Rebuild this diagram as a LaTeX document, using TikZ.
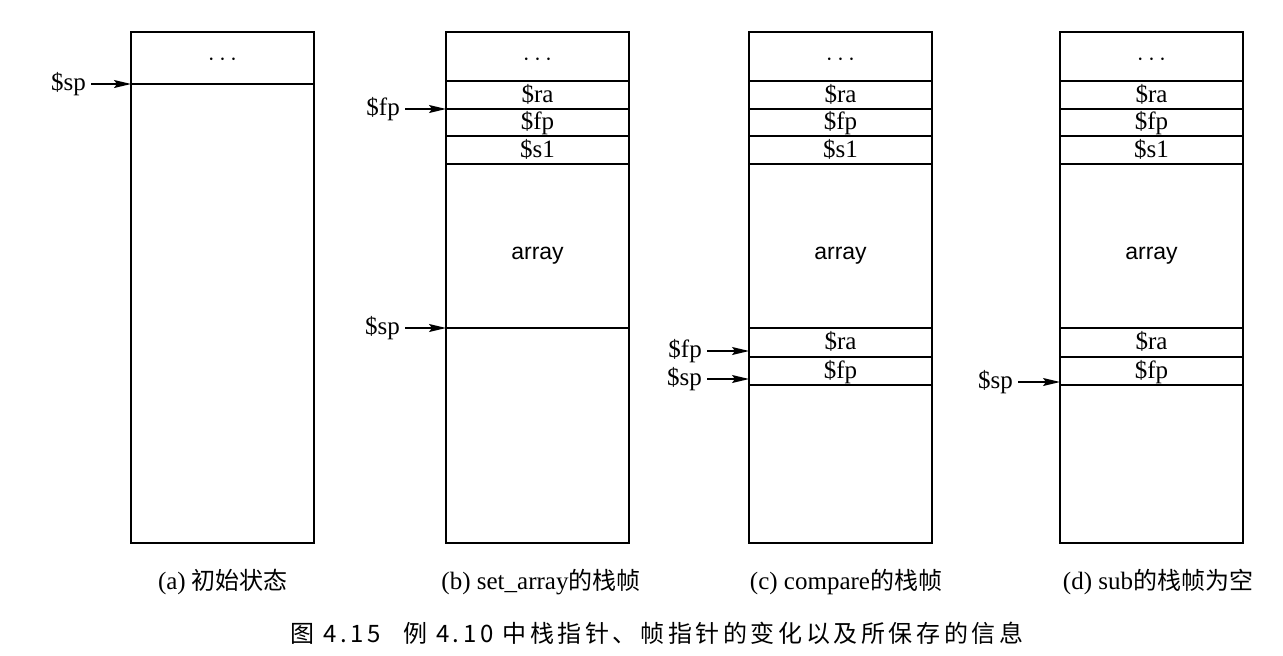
\documentclass[tikz,border=0pt]{standalone}
\usepackage{fontspec}
\setmainfont{Liberation Serif}
\newfontfamily\cjk{Noto Sans CJK SC}
\newfontfamily\cjkcap[LetterSpace=15]{Noto Sans CJK SC}
\newfontfamily\sanf{Liberation Sans}
\usetikzlibrary{arrows.meta}
\begin{document}
\begin{tikzpicture}[x=1pt,y=-1pt,
  box/.style={line width=1.8pt},
  sep/.style={line width=1.7pt},
  cell/.style={font=\fontsize{25}{29}\selectfont, text height=17pt, text depth=5pt, inner sep=0pt},
  lab/.style={font=\fontsize{25}{29}\selectfont, text height=17pt, text depth=5pt, inner sep=0pt, anchor=east},
  ptr/.style={line width=1.4pt, shorten <=5pt, -{Stealth[length=17pt,width=8pt,inset=3pt]}},
  subcap/.style={font=\fontsize{25}{29}\selectfont, inner sep=0pt}]
\useasboundingbox (0,0) rectangle (1283,656);
\fill[white] (0,0) rectangle (1283,656);

% ---------- (a)
\draw[box] (131,32) rectangle (314,543);
\draw[sep] (131,84) -- (314,84);
\node[cell] (a-dots) at (222.5,59) {$\cdots$};
\node[lab] (a-sp) at (86,84) {\$sp};
\coordinate (a-spT) at (131,84);
\draw[ptr] (a-sp.east) -- (a-spT);

% ---------- common upper part of (b), (c), (d)
\foreach \L/\n in {446/b,749/c,1060/d}{
  \draw[box] (\L,32) rectangle (\L+183,543);
  \foreach \yy in {81,109,136,164}{
    \draw[sep] (\L,\yy) -- (\L+183,\yy);
  }
  \node[cell] (\n-dots) at (\L+91.5,59) {$\cdots$};
  \node[cell] (\n-ra) at (\L+91.5,96) {\$ra};
  \node[cell] (\n-fp) at (\L+91.5,123.5) {\$fp};
  \node[cell] (\n-s1) at (\L+91.5,151) {\$s1};
  \node[cell, font=\sanf\fontsize{23}{27}\selectfont] (\n-array) at (\L+91.5,253) {array};
}

% ---------- (b)
\draw[sep] (446,328) -- (629,328);
\node[lab] (b-fp) at (400,109) {\$fp};
\coordinate (b-fpT) at (446,109);
\draw[ptr] (b-fp.east) -- (b-fpT);
\node[lab] (b-sp) at (400,328) {\$sp};
\coordinate (b-spT) at (446,328);
\draw[ptr] (b-sp.east) -- (b-spT);

% ---------- lower part of (c), (d)
\foreach \L/\n in {749/c,1060/d}{
  \foreach \yy in {328,357,385}{
    \draw[sep] (\L,\yy) -- (\L+183,\yy);
  }
  \node[cell] (\n-ra2) at (\L+91.5,343.5) {\$ra};
  \node[cell] (\n-fp2) at (\L+91.5,372) {\$fp};
}

% ---------- (c) pointers
\node[lab] (c-fp) at (702,351) {\$fp};
\coordinate (c-fpT) at (749,351);
\draw[ptr] (c-fp.east) -- (c-fpT);
\node[lab] (c-sp) at (702,379) {\$sp};
\coordinate (c-spT) at (749,379);
\draw[ptr] (c-sp.east) -- (c-spT);

% ---------- (d) pointer
\node[lab] (d-sp) at (1013,382) {\$sp};
\coordinate (d-spT) at (1060,382);
\draw[ptr] (d-sp.east) -- (d-spT);

% ---------- captions
\node[subcap] (cap-a) at (223,582) {(a) {\cjk\fontsize{24}{29}\selectfont 初始状态}};
\node[subcap] (cap-b) at (541,582) {(b) set\_array{\cjk\fontsize{24}{29}\selectfont 的栈帧}};
\node[subcap] (cap-c) at (846,582) {(c) compare{\cjk\fontsize{24}{29}\selectfont 的栈帧}};
\node[subcap] (cap-d) at (1158,582) {(d) sub{\cjk\fontsize{24}{29}\selectfont 的栈帧为空}};

\node[inner sep=0pt, font=\cjkcap\fontsize{24}{28}\selectfont] (title) at (657,633)
  {图 4.15\hspace{22pt}例 4.10 中栈指针、帧指针的变化以及所保存的信息};
\end{tikzpicture}
\end{document}
